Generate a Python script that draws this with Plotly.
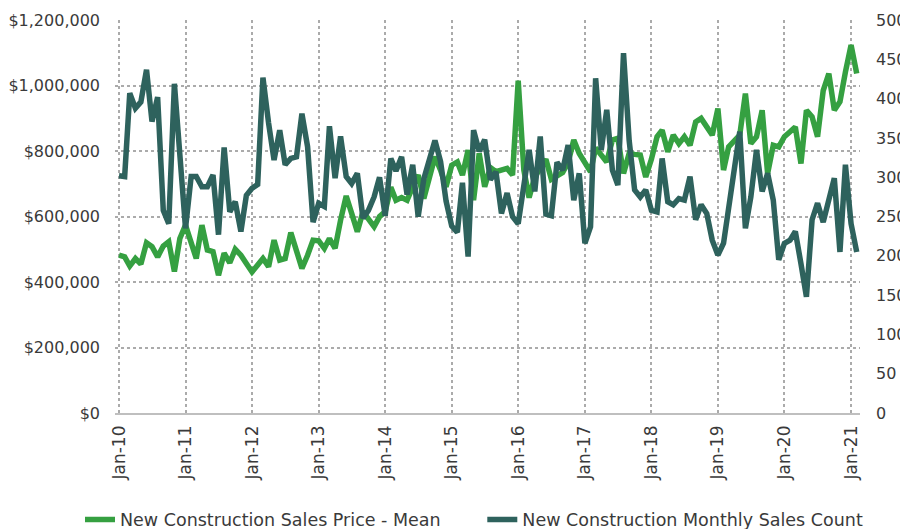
import pandas as pd
import plotly.graph_objects as go

months = pd.date_range("2010-01-01", periods=134, freq="MS")

price_mean = [
    482, 477, 449, 472, 455, 520, 508, 477, 510, 523, 432, 533,
    574, 523, 472, 574, 498, 493, 421, 488, 459, 500, 482, 457,
    431, 452, 472, 447, 528, 467, 472, 551, 493, 442, 482, 528,
    526, 503, 533, 503, 589, 663, 610, 554, 615, 594, 569, 600,
    615, 690, 650, 658, 650, 691, 727, 655, 721, 783, 742, 691,
    757, 767, 727, 803, 650, 793, 691, 750, 737, 742, 747, 727,
    1015, 742, 658, 721, 747, 775, 714, 725, 735, 765, 834, 793,
    767, 737, 810, 790, 767, 834, 839, 732, 793, 790, 788, 721,
    775, 844, 864, 798, 849, 823, 844, 818, 889, 900, 874, 849,
    930, 742, 813, 834, 849, 976, 823, 844, 925, 732, 818, 813,
    844, 859, 874, 762, 925, 905, 844, 985, 1037, 925, 951, 1042,
    1124, 1037,
]
price_mean = [v * 1000 for v in price_mean]

sales_count = [
    302, 301, 407, 388, 396, 437, 371, 402, 258, 241, 419, 328,
    235, 301, 301, 288, 288, 303, 227, 338, 256, 269, 231, 277,
    286, 291, 427, 369, 322, 360, 316, 324, 326, 381, 339, 243,
    267, 263, 365, 299, 352, 301, 292, 305, 248, 258, 275, 300,
    251, 324, 308, 326, 278, 316, 250, 298, 322, 347, 320, 270,
    238, 230, 293, 199, 360, 333, 348, 297, 307, 254, 280, 250,
    241, 290, 335, 282, 352, 253, 251, 319, 309, 341, 271, 305,
    216, 237, 426, 335, 386, 309, 290, 458, 347, 284, 275, 284,
    258, 256, 324, 269, 265, 273, 271, 301, 246, 265, 254, 220,
    201, 216, 263, 309, 358, 235, 275, 335, 282, 305, 271, 195,
    216, 220, 231, 190, 148, 246, 267, 243, 275, 299, 205, 316,
    241, 205,
]

price_name = "New Construction Sales Price - Mean"
count_name = "New Construction Monthly Sales Count"
left_ticks = [0, 200000, 400000, 600000, 800000, 1000000, 1200000]
right_ticks = list(range(0, 501, 50))
year_ticks = pd.date_range("2010-01-01", "2021-01-01", freq="YS")

GREEN = "#35A041"
DARK = "#2E625D"
FONT = "DejaVu Sans"
TXT = "#3a3a3a"
GRID = "#ababab"

fig = go.Figure()
fig.add_trace(go.Scatter(x=months, y=price_mean, name=price_name, mode="lines",
                         line=dict(color=GREEN, width=5.5), yaxis="y",
                         legend="legend"))
fig.add_trace(go.Scatter(x=months, y=sales_count, name=count_name, mode="lines",
                         line=dict(color=DARK, width=5.5), yaxis="y2",
                         legend="legend2"))

legend_common = dict(orientation="h", xref="container", xanchor="left",
                     yref="container", y=0.018, yanchor="middle",
                     bgcolor="rgba(0,0,0,0)",
                     font=dict(family=FONT, size=17.5, color=TXT))

# page body has an 8px margin, so the figure is drawn 8px in from the window corner
fig.update_layout(
    width=900, height=521,
    margin=dict(l=107, r=48, t=12, b=116, autoexpand=False),
    paper_bgcolor="white", plot_bgcolor="white",
    font=dict(family=FONT, size=16, color=TXT),
    showlegend=True,
    legend=dict(x=0.080, **legend_common),
    legend2=dict(x=0.527, **legend_common),
    xaxis=dict(
        type="date", automargin=False,
        range=["2009-12-10", "2021-02-19"],
        tickvals=list(year_ticks),
        ticktext=[d.strftime("%b-%y") for d in year_ticks],
        tickangle=-90,
        showgrid=True, gridcolor=GRID, griddash="dot", gridwidth=1.5,
        showline=True, linecolor="#bfbfbf", linewidth=1.5,
        ticks="", ticklabelstandoff=4,
        tickfont=dict(family=FONT, size=17, color=TXT),
        zeroline=False,
    ),
    yaxis=dict(
        automargin=False,
        range=[0, 1200000 * 1.0005],
        tickvals=left_ticks,
        ticktext=["$" + format(v, ",") for v in left_ticks],
        showgrid=True, gridcolor=GRID, griddash="dot", gridwidth=1.5,
        zeroline=False, showline=False, ticks="",
        ticklabelstandoff=14,
        tickfont=dict(family=FONT, size=16, color=TXT),
    ),
    yaxis2=dict(
        automargin=False,
        range=[0, 500 * 1.0005],
        tickvals=right_ticks,
        overlaying="y", side="right",
        showgrid=False, zeroline=False, showline=False, ticks="",
        ticklabelstandoff=15,
        tickfont=dict(family=FONT, size=16, color=TXT),
    ),
)

fig.write_html("out.html")
